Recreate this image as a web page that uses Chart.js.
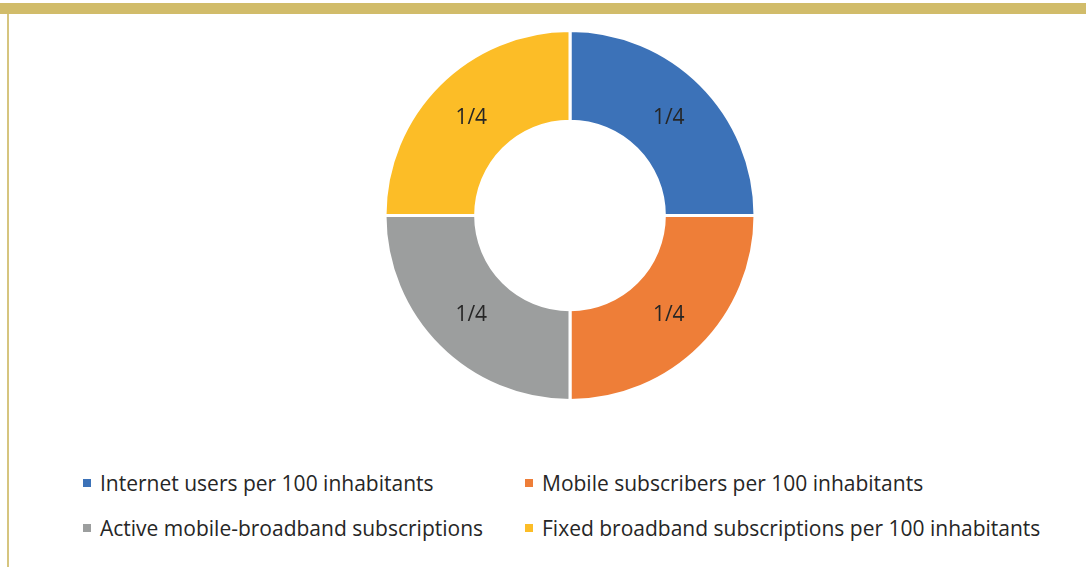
<!DOCTYPE html>
<html>
<head>
<meta charset="utf-8">
<script src="https://cdn.jsdelivr.net/npm/chart.js@4"></script>
<style>
    html, body { margin: 0; padding: 0; background: #fff; }
    #page { position: relative; width: 1086px; height: 567px; overflow: hidden; font-family: 'Open Sans', sans-serif; }
    #topBar { position: absolute; left: 0; top: 3px; width: 1086px; height: 11px; background: #D1BC6A; }
    #leftBar { position: absolute; left: 7px; top: 14px; width: 2px; height: 553px; background: #D6C57F; }
    #chartBox { position: absolute; left: 27px; top: 29px; width: 1086px; height: 373px; }
    .legend-item { position: absolute; display: flex; align-items: center; font-size: 21px; color: #262626; white-space: nowrap; }
    .legend-box { width: 8px; height: 8px; margin-right: 9px; }
</style>
</head>
<body>
<div id="page">
    <div id="topBar"></div>
    <div id="leftBar"></div>
    <div id="chartBox"><canvas id="donutChart"></canvas></div>
    <div id="legend"></div>
</div>
<script>
// Categories and values (equal quarters)
const categories = [
    'Internet users per 100 inhabitants',
    'Mobile subscribers per 100 inhabitants',
    'Active mobile-broadband subscriptions',
    'Fixed broadband subscriptions per 100 inhabitants'
];
const values = [1, 1, 1, 1];
const colors = ['#3C72B8', '#EE7E38', '#9C9E9E', '#FCBD27'];

// Legend placement: [left, top] for each item, two columns
const legendSpots = [[83, 469], [525, 469], [83, 514], [525, 514]];

const total = values.reduce((sum, v) => sum + v, 0);

// Draws "1/4" style labels in each slice
const sliceLabels = {
    id: 'sliceLabels',
    afterDatasetsDraw(chart) {
        const ctx = chart.ctx;
        const meta = chart.getDatasetMeta(0);
        ctx.save();
        ctx.font = '21px "Open Sans", sans-serif';
        ctx.fillStyle = '#262626';
        ctx.textAlign = 'center';
        ctx.textBaseline = 'middle';
        meta.data.forEach((arc, i) => {
            const pos = arc.tooltipPosition();
            ctx.fillText(values[i] + '/' + total, pos.x, pos.y + 1);
        });
        ctx.restore();
    }
};

new Chart(document.getElementById('donutChart'), {
    type: 'doughnut',
    data: {
        labels: categories,
        datasets: [{
            data: values,
            backgroundColor: colors,
            borderColor: '#ffffff',
            borderWidth: 3,
            hoverOffset: 0
        }]
    },
    options: {
        responsive: true,
        maintainAspectRatio: false,
        animation: false,
        cutout: '51%',
        plugins: {
            legend: { display: false },
            tooltip: { enabled: false }
        }
    },
    plugins: [sliceLabels]
});

// Build legend from the same arrays
const legendEl = document.getElementById('legend');
categories.forEach((name, i) => {
    const item = document.createElement('div');
    item.className = 'legend-item';
    item.style.left = legendSpots[i][0] + 'px';
    item.style.top = legendSpots[i][1] + 'px';
    item.innerHTML = '<span class="legend-box" style="background:' + colors[i] + '"></span><span>' + name + '</span>';
    legendEl.appendChild(item);
});
</script>
</body>
</html>
